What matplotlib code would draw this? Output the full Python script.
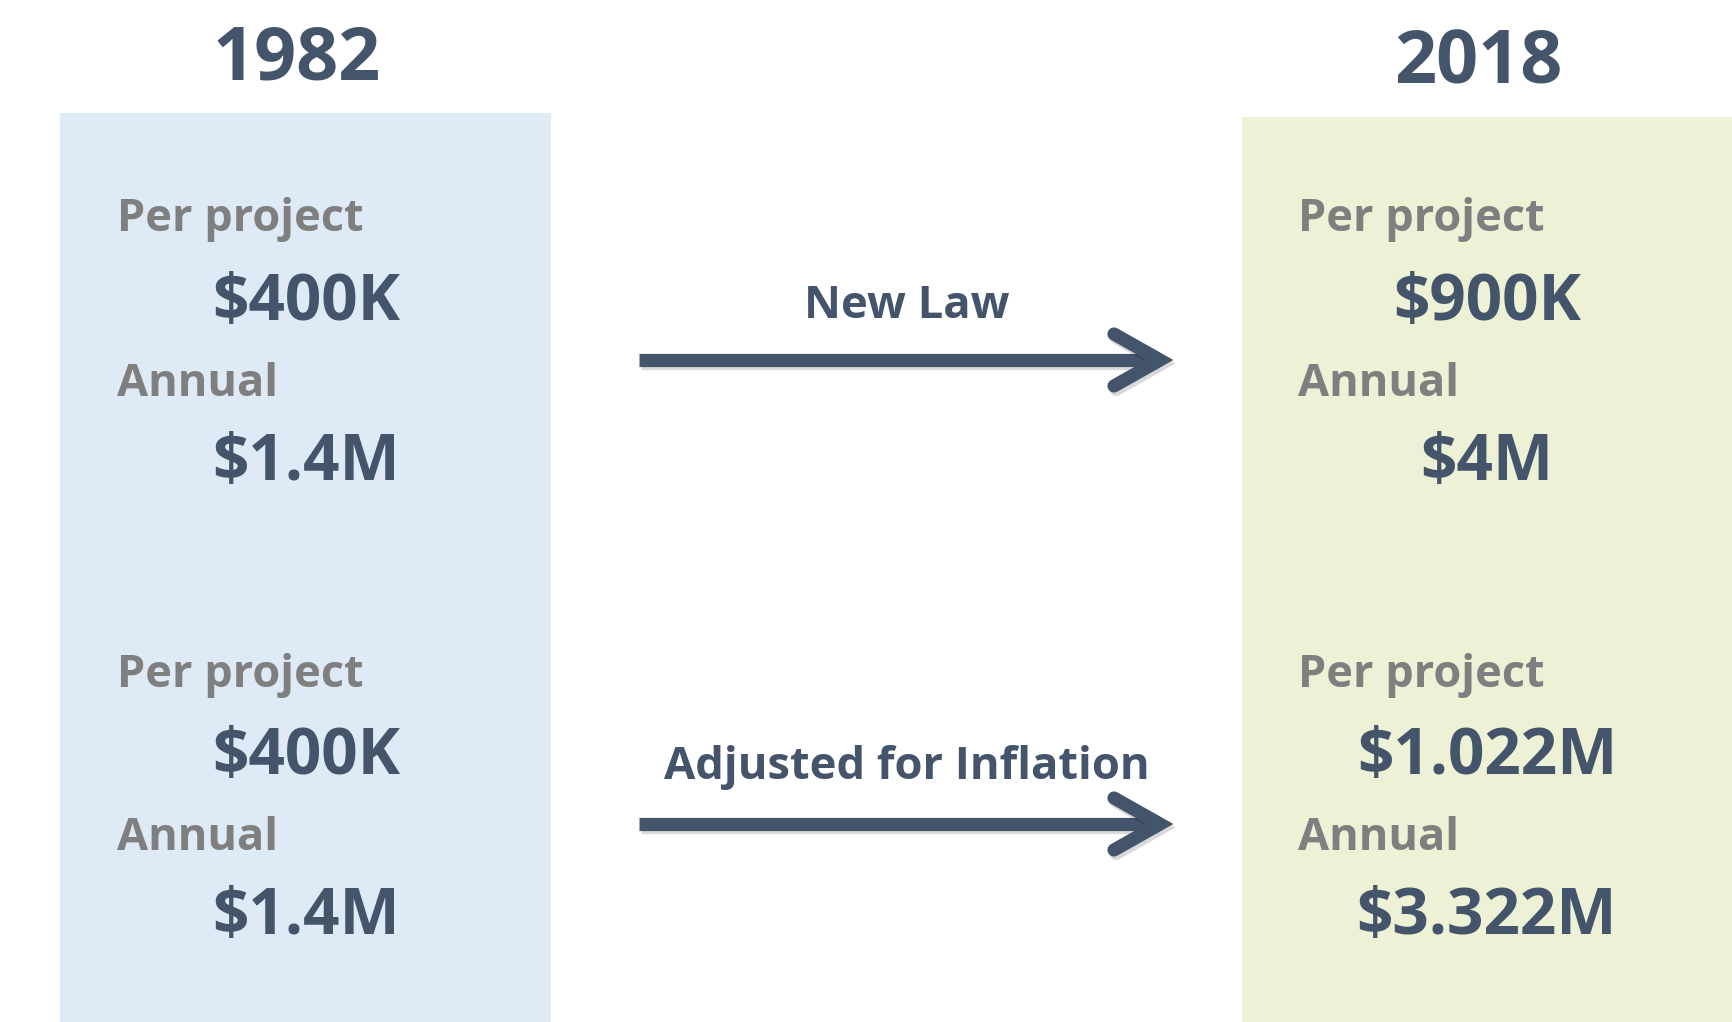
import matplotlib
matplotlib.use("Agg")
import matplotlib.pyplot as plt
from matplotlib.patches import Rectangle
import matplotlib.patheffects as pe

# ---- data ----
years = ["1982", "2018"]
scenarios = ["New Law", "Adjusted for Inflation"]
metric_labels = ["Per project", "Annual"]
values_1982 = [["$400K", "$1.4M"], ["$400K", "$1.4M"]]
values_2018 = [["$900K", "$4M"], ["$1.022M", "$3.322M"]]

DARK = "#44546A"
GRAY = "#7F7F7F"
BLUE_BOX = "#DEEAF6"
GREEN_BOX = "#EDF2D6"
FONT = ["Open Sans", "DejaVu Sans"]

W, H = 1733, 1022
fig = plt.figure(figsize=(W / 100, H / 100), dpi=100)
ax = fig.add_axes([0, 0, 1, 1])
ax.set_xlim(0, W)
ax.set_ylim(H, 0)
ax.axis("off")

# boxes
ax.add_patch(Rectangle((60, 113), 491, H - 113, facecolor=BLUE_BOX, edgecolor="none", zorder=0))
ax.add_patch(Rectangle((1242, 117), W - 1242, H - 117, facecolor=GREEN_BOX, edgecolor="none", zorder=0))

# year headers
ax.text(297, 60, years[0], ha="center", va="center", fontsize=53, fontweight="bold", color=DARK, family=FONT)
ax.text(1478, 64, years[1], ha="center", va="center", fontsize=53, fontweight="bold", color=DARK, family=FONT)

# block layout
label_y = [[220, 385], [675, 839]]
value_y = [[303, 464], [757, 918]]
cols = [(117, 306, values_1982), (1298, 1487, values_2018)]

for lx, vx, vals in cols:
    for b in range(2):
        for m in range(2):
            ax.text(lx, label_y[b][m], metric_labels[m], ha="left", va="center",
                    fontsize=32.5, fontweight="bold", color=GRAY, family=FONT)
            ax.text(vx, value_y[b][m], vals[b][m], ha="center", va="center",
                    fontsize=46, fontweight="bold", color=DARK, family=FONT)

# arrows
arrow_y = [360, 824]
label_arrow_y = [307, 768]
shadow = [pe.SimpleLineShadow(offset=(1.5, -2.5), shadow_color="#000000", alpha=0.15), pe.Normal()]
for i, name in enumerate(scenarios):
    y = arrow_y[i]
    x0, x1 = 639, 1160
    ax.plot([x0, x1 - 4], [y, y], color=DARK, lw=9.5, solid_capstyle="butt", path_effects=shadow, zorder=3)
    ax.plot([x1 - 46, x1, x1 - 46], [y - 26, y, y + 26], color=DARK, lw=9.5,
            solid_capstyle="round", solid_joinstyle="miter", path_effects=shadow, zorder=3)
    ax.text(907, label_arrow_y[i], name, ha="center", va="center", fontsize=32.7,
            fontweight="bold", color=DARK, family=FONT)

fig.savefig("out.png", dpi=100, facecolor="white")
